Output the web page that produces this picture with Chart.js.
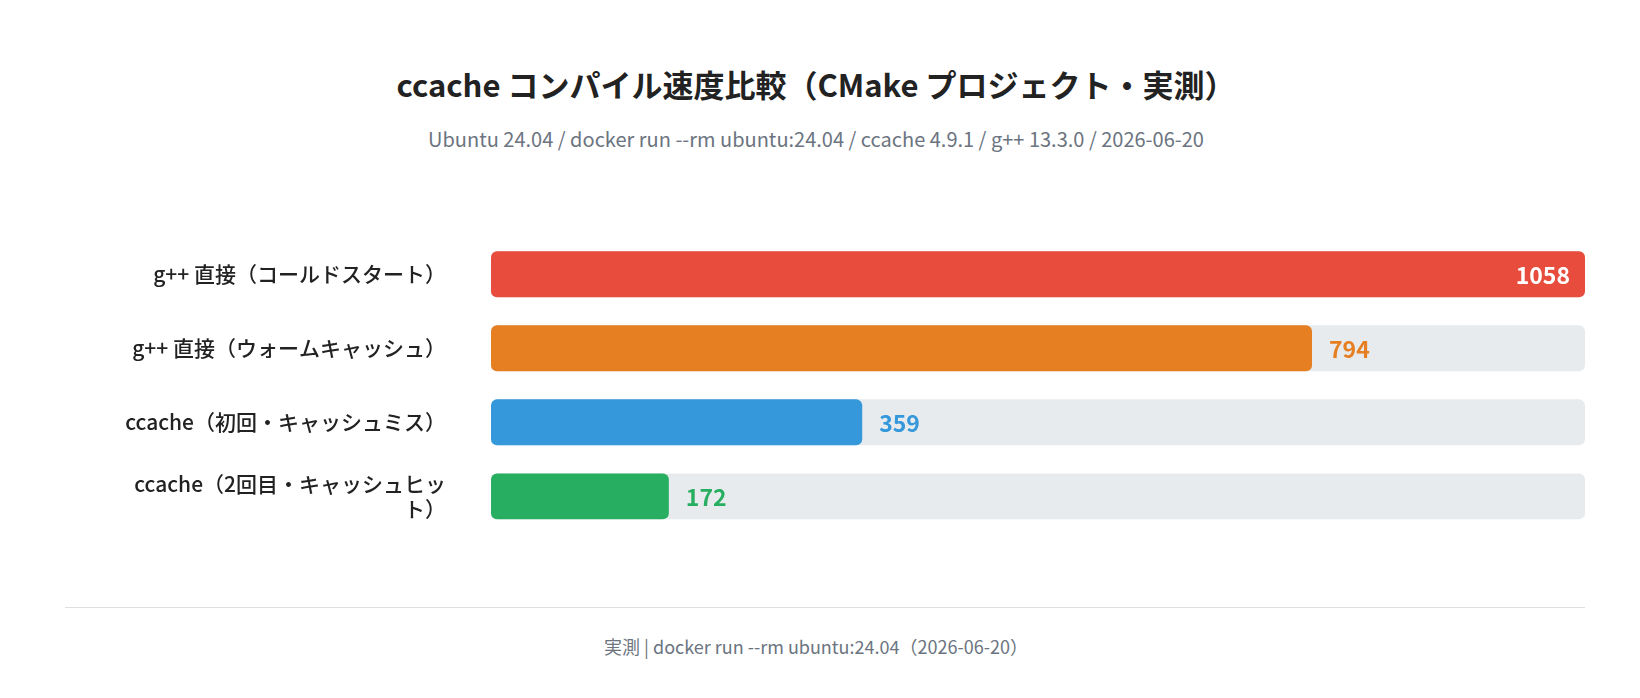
<!DOCTYPE html>
<html><head><meta charset="utf-8">
<script src="https://cdn.jsdelivr.net/npm/chart.js@4/dist/chart.umd.min.js"></script>
<style>
body{margin:0;width:1640px;height:698px;background:#fff;font-family:"Noto Sans CJK JP","Noto Sans",sans-serif;position:relative;overflow:hidden}
#t{position:absolute;top:61px;left:0;width:1632px;text-align:center;font-size:31px;font-weight:700;color:#222}
#s{position:absolute;top:124px;left:0;width:1632px;text-align:center;font-size:20px;color:#6b7480}
#cv{position:absolute;top:175px;left:0}
#line{position:absolute;top:607px;left:65px;width:1520px;height:1px;background:#dde0e3}
#f{position:absolute;top:633px;left:0;width:1632px;text-align:center;font-size:18px;color:#6b7480}
</style></head><body>
<div id="t">ccache コンパイル速度比較（CMake プロジェクト・実測）</div>
<div id="s">Ubuntu 24.04 / docker run --rm ubuntu:24.04 / ccache 4.9.1 / g++ 13.3.0 / 2026-06-20</div>
<canvas id="cv" width="1640" height="408" style="width:1640px;height:408px"></canvas>
<div id="line"></div>
<div id="f">実測 | docker run --rm ubuntu:24.04（2026-06-20）</div>
<script>
const categories=[["g++ 直接（コールドスタート）"],["g++ 直接（ウォームキャッシュ）"],["ccache（初回・キャッシュミス）"],["ccache（2回目・キャッシュヒッ","ト）"]];
const values=[1058,794,359,172];
const colors=["#e74c3c","#e67e22","#3498db","#27ae60"];
const maxV=Math.max(...values);
const valPlugin={id:'vals',afterDatasetsDraw(ch){
 const ctx=ch.ctx;const meta=ch.getDatasetMeta(1);
 ctx.save();ctx.font='bold 23px "Noto Sans CJK JP"';ctx.textBaseline='middle';
 meta.data.forEach((b,i)=>{
  const txt=String(values[i]);
  if(values[i]===maxV){ctx.fillStyle='#fff';ctx.textAlign='right';ctx.fillText(txt,b.x-15,b.y+1);}
  else{ctx.fillStyle=colors[i];ctx.textAlign='left';ctx.fillText(txt,b.x+17,b.y+1);}
 });ctx.restore();}};
new Chart(document.getElementById('cv'),{type:'bar',
data:{labels:categories,datasets:[
 {data:values.map(()=>maxV),backgroundColor:'#e8ebee',borderRadius:6,borderSkipped:false,grouped:false,order:2,barPercentage:0.62,categoryPercentage:1},
 {data:values,backgroundColor:colors,borderRadius:6,borderSkipped:false,grouped:false,order:1,barPercentage:0.62,categoryPercentage:1}]},
options:{indexAxis:'y',responsive:false,animation:false,devicePixelRatio:1,
 layout:{padding:{left:0,right:55,top:0,bottom:0}},
 plugins:{legend:{display:false},tooltip:{enabled:false}},
 scales:{x:{display:false,min:0,max:maxV},
  y:{grid:{display:false},border:{display:false},
   ticks:{color:'#222',font:{size:21,weight:'500',family:'"Noto Sans CJK JP"'},padding:37},
   afterFit(a){a.width=491;}}}},
plugins:[valPlugin]});
</script></body></html>
